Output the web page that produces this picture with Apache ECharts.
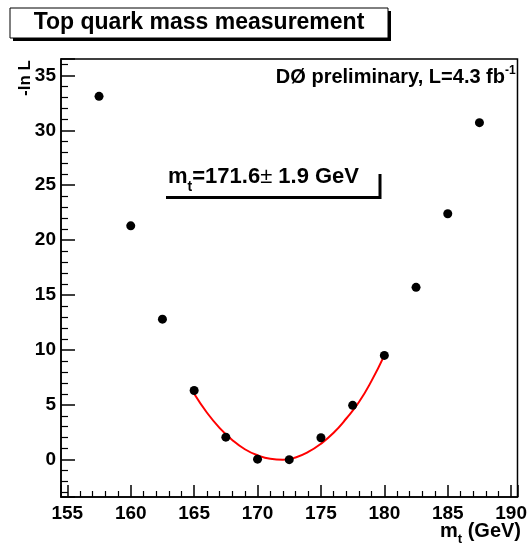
<!DOCTYPE html>
<html>
<head>
<meta charset="utf-8">
<script src="https://cdn.jsdelivr.net/npm/echarts@6/dist/echarts.min.js"></script>
<style>
  html, body { margin: 0; padding: 0; background: #fff; }
  #chart { width: 530px; height: 545px; }
</style>
</head>
<body>
<div id="chart"></div>
<script>
// scan points: top mass hypothesis (GeV) and -ln L
var massPoints = [157.5, 160, 162.5, 165, 167.5, 170, 172.5, 175, 177.5, 180, 182.5, 185, 187.5];
var nllValues = [33.1, 21.3, 12.8, 6.3, 2.05, 0.05, 0.0, 2.0, 4.95, 9.5, 15.7, 22.4, 30.7];

// fitted curve
var fitMass = [165, 166, 167, 168, 169, 170, 171, 172, 173, 174, 175, 176, 177, 178, 179, 180];
var fitNll = [6.0, 4.3, 2.9, 1.8, 0.95, 0.4, 0.08, 0.0, 0.2, 0.7, 1.45, 2.45, 3.75, 5.25, 7.2, 9.5];

var FONT = '"Liberation Sans", Arial, sans-serif';

var chart = echarts.init(document.getElementById('chart'));

function pairs(xs, ys) {
  return xs.map(function (x, i) { return [x, ys[i]]; });
}

var option = {
  backgroundColor: '#fff',
  animation: false,
  grid: {
    left: 61, right: 10, top: 59, bottom: 48,
    show: true, borderColor: '#000', borderWidth: 1.5, backgroundColor: '#fff'
  },
  xAxis: {
    type: 'value',
    min: 154.5, max: 190.5, splitNumber: 7,
    axisLine: { onZero: false, lineStyle: { color: '#000', width: 1.5 } },
    axisTick: { inside: true, length: 12, lineStyle: { color: '#000', width: 1.5 } },
    minorTick: { show: true, splitNumber: 5, length: 6, lineStyle: { color: '#000', width: 1.2 } },
    splitLine: { show: false },
    axisLabel: {
      margin: 7, color: '#000', fontFamily: FONT, fontWeight: 'bold', fontSize: 19,
      formatter: function (v) { return v % 5 === 0 ? String(v) : ''; }
    }
  },
  yAxis: {
    type: 'value',
    min: -3.4, max: 36.5, splitNumber: 8,
    axisLine: { onZero: false, lineStyle: { color: '#000', width: 1.5 } },
    axisTick: { inside: true, length: 14, lineStyle: { color: '#000', width: 1.5 } },
    minorTick: { show: true, splitNumber: 5, length: 7, lineStyle: { color: '#000', width: 1.2 } },
    splitLine: { show: false },
    axisLabel: {
      margin: 5, color: '#000', fontFamily: FONT, fontWeight: 'bold', fontSize: 19,
      formatter: function (v) { return v % 5 === 0 ? String(v) : ''; }
    }
  },
  series: [
    {
      name: 'fit',
      type: 'line',
      data: pairs(fitMass, fitNll),
      smooth: true,
      showSymbol: false,
      lineStyle: { color: '#ff0000', width: 2 },
      z: 2
    },
    {
      name: 'scan',
      type: 'scatter',
      data: pairs(massPoints, nllValues),
      symbol: 'circle',
      symbolSize: 9,
      itemStyle: { color: '#000', opacity: 1 },
      z: 3
    }
  ],
  graphic: [
    // title box with shadow
    { type: 'rect', shape: { x: 13, y: 11, width: 378, height: 30 }, style: { fill: '#000' } },
    { type: 'rect', shape: { x: 10, y: 8, width: 378, height: 30 }, style: { fill: '#fff', stroke: '#000', lineWidth: 1 } },
    {
      type: 'text', x: 199, y: 23,
      style: {
        text: 'Top quark mass measurement', fill: '#000',
        font: 'bold 23px ' + FONT, align: 'center', verticalAlign: 'middle'
      }
    },
    // experiment label
    {
      type: 'text', x: 505, y: 77,
      style: {
        text: 'DØ preliminary, L=4.3 fb', fill: '#000',
        font: 'bold 20px ' + FONT, align: 'right', verticalAlign: 'middle'
      }
    },
    {
      type: 'text', x: 505, y: 71,
      style: {
        text: '-1', fill: '#000',
        font: 'bold 12px ' + FONT, align: 'left', verticalAlign: 'middle'
      }
    },
    // fit result pave (shadow only)
    {
      type: 'polyline',
      shape: { points: [[166, 197.5], [380, 197.5], [380, 174]] },
      style: { stroke: '#000', lineWidth: 3, fill: null }
    },
    {
      type: 'text', x: 168, y: 160,
      style: {
        text: '{n|m}{s|t}{n|=171.6}{p|±}{n| 1.9 GeV}',
        align: 'left', verticalAlign: 'top',
        rich: {
          n: { font: 'bold 22px ' + FONT, fill: '#000', lineHeight: 34, verticalAlign: 'middle' },
          p: { font: '22px ' + FONT, fill: '#000', lineHeight: 34, verticalAlign: 'middle' },
          s: { font: 'bold 14px ' + FONT, fill: '#000', lineHeight: 14, verticalAlign: 'bottom' }
        }
      }
    },
    // axis titles
    {
      type: 'text', x: 521, y: 516,
      style: {
        text: '{n|m}{s|t}{n| (GeV)}',
        align: 'right', verticalAlign: 'top',
        rich: {
          n: { font: 'bold 20px ' + FONT, fill: '#000', lineHeight: 30, verticalAlign: 'middle' },
          s: { font: 'bold 13px ' + FONT, fill: '#000', lineHeight: 13, verticalAlign: 'bottom' }
        }
      }
    },
    {
      type: 'text', x: 25, y: 60, rotation: Math.PI / 2,
      style: {
        text: '-ln L', fill: '#000',
        font: 'bold 17px ' + FONT, align: 'right', verticalAlign: 'middle'
      }
    }
  ]
};

chart.setOption(option);
</script>
</body>
</html>
